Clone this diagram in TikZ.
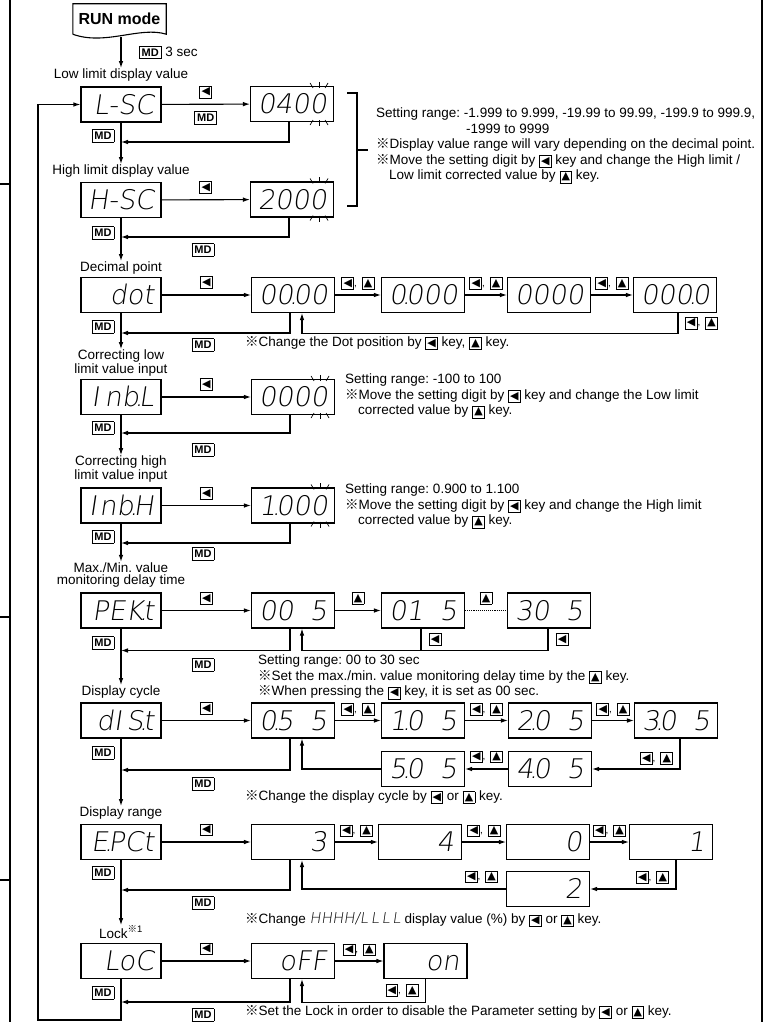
\documentclass[tikz,border=0pt]{standalone}
\usepackage{fontspec}
\setmainfont{Liberation Sans}
\newfontfamily\segf{DejaVuSans-ExtraLight}[Extension=.ttf, FakeSlant=0.15]
\newfontfamily\symf{DejaVu Sans}
\newfontfamily\cjk{Noto Sans CJK JP}
\usetikzlibrary{arrows.meta}

\newcommand\keybox[1]{{\setlength\fboxsep{1.3pt}\setlength\fboxrule{0.8pt}\fbox{#1}}}
\newcommand\kl{\keybox{\symf\fontsize{11}{11}\selectfont ◀}}
\newcommand\ku{\keybox{\symf\fontsize{11}{11}\selectfont ▲}}
\newcommand\kmd{{\setlength\fboxsep{2pt}\setlength\fboxrule{0.8pt}\fbox{\bfseries\fontsize{11}{11}\selectfont MD}}}
\newcommand\klu{\kl,\hspace{5pt}\ku}
\newcommand\kome{{\cjk ※}}
\newcommand\sdot{\makebox[0pt]{.}}
\newcommand\gap{\kern0.6em}
\newcommand\blink[1]{%
  \begin{scope}[shift={(#1.north east)}, line width=0.7pt]
    \draw (-15,-4) -- (-15,2); \draw (-24,-3) -- (-21,2); \draw (-6,-3) -- (-9,2);
  \end{scope}
  \begin{scope}[shift={(#1.south east)}, line width=0.7pt]
    \draw (-15,-2) -- (-15,4); \draw (-24,3) -- (-21,-2); \draw (-6,3) -- (-9,-2);
  \end{scope}}

\tikzset{
  ln/.style={line width=1.1pt},
  arr/.style={ln, -{Latex[length=7pt,width=4.6pt]}},
  edge/.style={line width=1.5pt},
  seg/.style={draw, line width=1.1pt, minimum height=35pt, inner sep=0pt, text width=68pt,
    text height=19pt, text depth=0pt, align=right, font=\segf\fontsize{27}{27}\selectfont},
  mbox/.style={seg, minimum width=80pt, text width=66pt},
  sbox/.style={seg, minimum width=83pt},
  ttl/.style={align=center, inner sep=0.5pt, font=\fontsize{13.5}{12.5}\selectfont},
  note/.style={anchor=west, align=left, inner sep=0pt, font=\fontsize{13.5}{15.5}\selectfont},
  key/.style={inner sep=0pt},
}

\begin{document}
\frenchspacing
\exhyphenpenalty=10000
\hyphenpenalty=10000
\begin{tikzpicture}[x=1pt,y=-1pt]
\useasboundingbox (0,0) rectangle (772,1022);
% page edges
\draw[edge] (10,0) -- (10,1022);
\draw[edge] (762,0) -- (762,1022);
\foreach \yy in {184,617,880} \draw[edge] (0,\yy) -- (10,\yy);

% start
\node[font=\bfseries\fontsize{16}{16}\selectfont, minimum width=93pt, minimum height=30pt, inner sep=0pt] (run) at (119.5,19) {RUN mode};
\draw[ln] (run.south west) -- (run.north west) -- (run.north east) -- (run.south east)
  .. controls (140,26) and (105,46) .. (run.south west);
\coordinate (runout) at (121,37);

% main column
\node[ttl] (t1) at (121,75) {Low limit display value};
\node[mbox] (lsc) at (121,104.5) {L-SC};
\node[ttl] (t2) at (121,171) {High limit display value};
\node[mbox] (hsc) at (121,200) {H-SC};
\node[ttl] (t3) at (121,268) {Decimal point};
\node[mbox] (dot) at (121,295) {dot};
\node[ttl] (t4) at (121,363) {Correcting low\\limit value input};
\node[mbox] (inbl) at (121,397) {I\kern0.2em nb\sdot L};
\node[ttl] (t5) at (121,469) {Correcting high\\limit value input};
\node[mbox] (inbh) at (121,505.5) {I\kern0.1em nb\sdot H};
\node[ttl] (t6) at (121,575) {Max./Min. value\\monitoring delay time};
\node[mbox] (pekt) at (121,610.5) {PEK\sdot t};
\node[ttl] (t7) at (121,692) {Display cycle};
\node[mbox] (dist) at (121,720.5) {dI\,S\sdot t};
\node[ttl] (t8) at (121,813) {Display range};
\node[mbox] (epct) at (121,842) {E\sdot PCt};
\node[ttl] (t9) at (121,932) {Lock\textsuperscript{\kome1}};
\node[mbox] (loc) at (121,961) {LoC};

\draw[arr] (runout) -- (t1) node[midway,right=14pt,font=\fontsize{13.5}{13.5}\selectfont] (mdrun) {\kmd\ 3 sec};
\draw[arr] (lsc) -- (t2);
\draw[arr] (hsc) -- (t3);
\draw[arr] (dot) -- (t4);
\draw[arr] (inbl) -- (t5);
\draw[arr] (inbh) -- (t6);
\draw[arr] (pekt) -- (t7);
\draw[arr] (dist) -- (t8);
\draw[arr] (epct) -- (t9);
\coordinate (bl) at (121,1020);
\coordinate (br) at (38,1020);
\draw[arr] (loc) -- (bl) -- (br) |- (lsc);

\foreach \yy/\nm in {136/ma,233/mb,327/mc,428/md,537/me,643/mf,753/mg,873/mh,993/mi}
  \node[key] (\nm) at (103,\yy) {\kmd};

\coordinate (r1) at (121,142);
\coordinate (r2) at (121,237);
\coordinate (r3) at (121,333);
\coordinate (r4) at (121,433);
\coordinate (r5) at (121,543);
\coordinate (r6) at (121,650.5);
\coordinate (r7) at (121,770);
\coordinate (r8) at (121,890);
\coordinate (r9) at (121,1002);

% low / high limit
\node[sbox] (lsv) at (292,104) {0400};
\blink{lsv}
\draw[arr] (lsc) -- (lsv) node[midway,above=2pt] (k1) {\kl} node[midway,below=3pt] (k2) {\kmd};
\draw[arr] ([xshift=-3pt]lsv.south) |- (r1);
\node[sbox] (hsv) at (292,199.5) {2000};
\blink{hsv}
\draw[arr] (hsc) -- (hsv) node[midway,above=2pt] (k3) {\kl};
\draw[arr] ([xshift=-3pt]hsv.south) |- (r2);
\node[key] (k4) at (203,250) {\kmd};
\draw[ln] (347,93) -- (357,93) -- (357,206) -- (347,206) (357,150) -- (368,150);
\node[note, anchor=north west] (n1) at (376,108) {Setting range: -1.999 to 9.999, -19.99 to 99.99, -199.9 to 999.9,\\
\hspace*{90pt}-1999 to 9999\\
\kome Display value range will vary depending on the decimal point.\\
\kome Move the setting digit by \kl\ key and change the High limit /\\
\hspace*{13pt}Low limit corrected value by \ku\ key.};

% decimal point
\node[sbox] (dp1) at (293,295) {00\sdot00};
\node[sbox] (dp2) at (423,295) {0\sdot000};
\node[sbox] (dp3) at (549,295) {0000};
\node[sbox] (dp4) at (675,295) {000\sdot0};
\draw[arr] (dot) -- (dp1) node[midway,above=2pt] (k5) {\kl};
\draw[arr] (dp1) -- (dp2) node[midway,above=1pt] (k6) {\klu};
\draw[arr] (dp2) -- (dp3) node[midway,above=1pt] (k7) {\klu};
\draw[arr] (dp3) -- (dp4) node[midway,above=1pt] (k8) {\klu};
\draw[arr] ([xshift=3pt]dp4.south) -- ++(0,20) node[midway,right=3pt] (k9) {\klu} -| ([xshift=9pt]dp1.south);
\draw[arr] ([xshift=-3pt]dp1.south) |- (r3);
\node[key] (k10) at (203,345) {\kmd};
\node[note] (n2) at (245,343) {\kome Change the Dot position by \kl\ key, \ku\ key.};

% correcting low
\node[sbox] (ibl) at (293,397) {0000};
\blink{ibl}
\draw[arr] (inbl) -- (ibl) node[midway,above=2pt] (k11) {\kl};
\draw[arr] ([xshift=-3pt]ibl.south) |- (r4);
\node[key] (k12) at (203,450) {\kmd};
\node[note, anchor=north west] (n3) at (345,374) {Setting range: -100 to 100\\
\kome Move the setting digit by \kl\ key and change the Low limit\\
\hspace*{13pt}corrected value by \ku\ key.};

% correcting high
\node[sbox] (ibh) at (293,505.5) {1\sdot000};
\blink{ibh}
\draw[arr] (inbh) -- (ibh) node[midway,above=2pt] (k13) {\kl};
\draw[arr] ([xshift=-3pt]ibh.south) |- (r5);
\node[key] (k14) at (203,554) {\kmd};
\node[note, anchor=north west] (n4) at (345,484) {Setting range: 0.900 to 1.100\\
\kome Move the setting digit by \kl\ key and change the High limit\\
\hspace*{13pt}corrected value by \ku\ key.};

% delay time
\node[sbox] (pk1) at (293,610.5) {00\gap 5};
\node[sbox] (pk2) at (423,610.5) {01\gap 5};
\node[sbox] (pk3) at (549,610.5) {30\gap 5};
\draw[arr] (pekt) -- (pk1) node[midway,above=2pt] (k15) {\kl};
\draw[arr] (pk1) -- (pk2) node[midway,above=2pt] (k16) {\ku};
\draw[ln, densely dotted] (pk2) -- (pk3) node[midway,above=2pt] (k17) {\ku};
\draw[ln] ([xshift=-2pt]pk2.south) -- ++(0,22) node[midway,right=4pt] (k18) {\kl};
\draw[arr] ([xshift=-1pt]pk3.south) -- ++(0,22) node[midway,right=4pt] (k19) {\kl} -| ([xshift=9pt]pk1.south);
\draw[arr] ([xshift=-3pt]pk1.south) |- (r6);
\node[key] (k20) at (203,665) {\kmd};
\node[note, anchor=north west] (n5) at (258,655) {Setting range: 00 to 30 sec\\
\kome Set the max./min. value monitoring delay time by the \ku\ key.\\
\kome When pressing the \kl\ key, it is set as 00 sec.};

% display cycle
\node[sbox] (dc1) at (293,720.5) {0\sdot5\gap 5};
\node[sbox] (dc2) at (423,720.5) {1\sdot0\gap 5};
\node[sbox] (dc3) at (550,720.5) {2\sdot0\gap 5};
\node[sbox] (dc4) at (676,720.5) {3\sdot0\gap 5};
\node[sbox] (dc5) at (550,769) {4\sdot0\gap 5};
\node[sbox] (dc6) at (423,769) {5\sdot0\gap 5};
\draw[arr] (dist) -- (dc1) node[midway,above=2pt] (k21) {\kl};
\draw[arr] (dc1) -- (dc2) node[midway,above=1pt] (k22) {\klu};
\draw[arr] (dc2) -- (dc3) node[midway,above=1pt] (k23) {\klu};
\draw[arr] (dc3) -- (dc4) node[midway,above=1pt] (k24) {\klu};
\draw[arr] ([xshift=4pt]dc4.south) |- (dc5) node[pos=0.33,left=3pt] (k25) {\klu};
\draw[arr] (dc5) -- (dc6) node[midway,above=2pt] (k26) {\klu};
\draw[arr] (dc6.west) -| ([xshift=9pt]dc1.south);
\draw[arr] ([xshift=-3pt]dc1.south) |- (r7);
\node[key] (k27) at (203,784) {\kmd};
\node[note] (n6) at (245,797) {\kome Change the display cycle by \kl\ or \ku\ key.};

% display range
\node[sbox] (ep1) at (293,842) {3};
\node[sbox] (ep2) at (420,842) {4};
\node[sbox] (ep3) at (548,842) {0};
\node[sbox] (ep4) at (671,842) {1};
\node[sbox] (ep5) at (548,889) {2};
\draw[arr] (epct) -- (ep1) node[midway,above=2pt] (k28) {\kl};
\draw[arr] (ep1) -- (ep2) node[midway,above=1pt] (k29) {\klu};
\draw[arr] (ep2) -- (ep3) node[midway,above=1pt] (k30) {\klu};
\draw[arr] (ep3) -- (ep4) node[midway,above=1pt] (k31) {\klu};
\draw[arr] ([xshift=5pt]ep4.south) |- (ep5) node[pos=0.3,left=3pt] (k32) {\klu};
\draw[arr] (ep5.west) -| ([xshift=9pt]ep1.south) node[pos=0.06,above=2pt] (k33) {\klu};
\draw[arr] ([xshift=-3pt]ep1.south) |- (r8);
\node[key] (k34) at (203,903) {\kmd};
\node[note] (n7) at (245,920) {\kome Change {\segf\fontsize{15}{15}\selectfont HHHH/L\,L\,L\,L} display value (\%) by \kl\ or \ku\ key.};

% lock
\node[sbox] (lk1) at (293,961) {oFF};
\node[sbox] (lk2) at (425.5,961) {on};
\draw[arr] (loc) -- (lk1) node[midway,above=2pt] (k35) {\kl};
\draw[arr] (lk1) -- (lk2) node[midway,above=1pt] (k36) {\klu};
\draw[arr] (lk2.south) -- ++(0,23) node[midway,left=3pt] (k37) {\klu} -| ([xshift=9pt]lk1.south);
\draw[arr] ([xshift=-3pt]lk1.south) |- (r9);
\node[key] (k38) at (203,1015) {\kmd};
\node[note] (n8) at (245,1012) {\kome Set the Lock in order to disable the Parameter setting by \kl\ or \ku\ key.};
\end{tikzpicture}
\end{document}
